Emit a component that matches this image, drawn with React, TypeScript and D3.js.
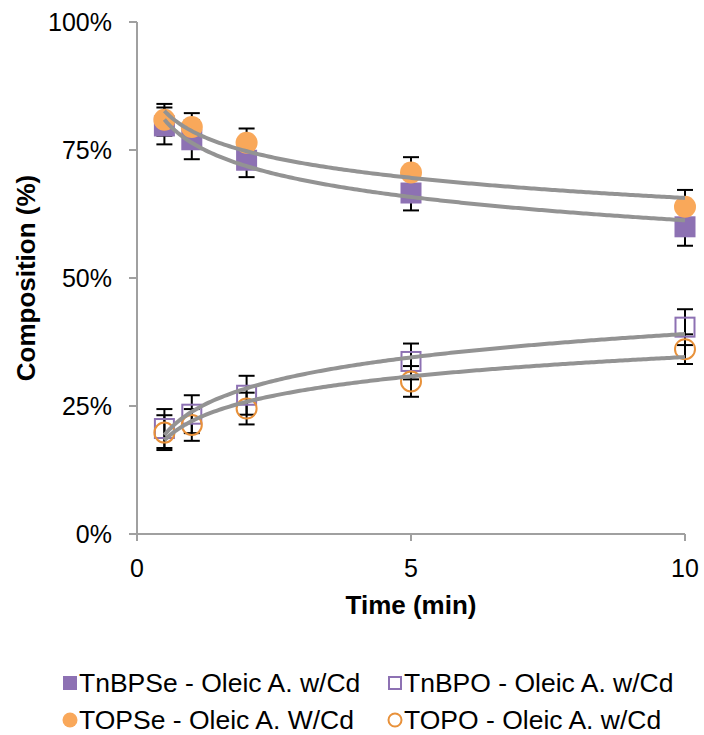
import React from "react";
import * as d3 from "d3";

// Sampling times (min)
const times = [0.5, 1, 2, 5, 10];

// Composition (%) per series
const tnbpseValues = [79.7, 77.0, 73.0, 66.6, 60.0];
const topseValues = [80.9, 79.5, 76.4, 70.6, 63.9];
const tnbpoValues = [20.6, 23.4, 27.1, 33.7, 40.4];
const topoValues = [19.8, 21.3, 24.5, 29.8, 36.1];

// Error (± %) per series
const tnbpseErrors = [3.6, 3.8, 3.3, 3.4, 3.7];
const topseErrors = [3.1, 2.7, 2.8, 3.0, 3.3];
const tnbpoErrors = [3.8, 3.7, 3.8, 3.5, 3.5];
const topoErrors = [3.4, 3.1, 3.1, 3.0, 2.9];

const xTicks = [0, 5, 10];
const yTicks = [0, 25, 50, 75, 100];

const seriesNames = [
  "TnBPSe - Oleic A. w/Cd",
  "TnBPO - Oleic A. w/Cd",
  "TOPSe - Oleic A. W/Cd",
  "TOPO - Oleic A. w/Cd",
];

const W = 704;
const H = 735;
const FONT = "'Liberation Sans', Arial, sans-serif";
const PURPLE = "#8D71B3";
const ORANGE = "#F9A85A";
const ORANGE_LINE = "#E8913A";
const AXIS = "#A0A0A0";
const TREND = "#939393";

type Series = {
  name: string;
  values: number[];
  errors: number[];
  shape: "square" | "circle";
  filled: boolean;
};

const series: Series[] = [
  { name: seriesNames[0], values: tnbpseValues, errors: tnbpseErrors, shape: "square", filled: true },
  { name: seriesNames[2], values: topseValues, errors: topseErrors, shape: "circle", filled: true },
  { name: seriesNames[1], values: tnbpoValues, errors: tnbpoErrors, shape: "square", filled: false },
  { name: seriesNames[3], values: topoValues, errors: topoErrors, shape: "circle", filled: false },
];

// Least-squares logarithmic fit y = a + b ln(x)
function logFit(xs: number[], ys: number[]) {
  const lx = xs.map((v) => Math.log(v));
  const mx = d3.mean(lx)!;
  const my = d3.mean(ys)!;
  let sxy = 0;
  let sxx = 0;
  lx.forEach((v, i) => {
    sxy += (v - mx) * (ys[i] - my);
    sxx += (v - mx) * (v - mx);
  });
  const b = sxy / sxx;
  const a = my - b * mx;
  return (x: number) => a + b * Math.log(x);
}

export default function App() {
  const x = d3.scaleLinear().domain([0, 10]).range([137, 685]);
  const y = d3.scaleLinear().domain([0, 100]).range([534, 22]);

  const samples = d3.range(0, 201).map((i) => 0.5 + (9.5 * i) / 200);
  const line = d3
    .line<[number, number]>()
    .x((d) => x(d[0]))
    .y((d) => y(d[1]));

  const markerSize = 21;
  const circleR = 11;
  const cap = 8;

  const marker = (s: Series, cx: number, cy: number, key: string) => {
    if (s.shape === "square") {
      return s.filled ? (
        <rect key={key} x={cx - markerSize / 2} y={cy - markerSize / 2} width={markerSize} height={markerSize} fill={PURPLE} />
      ) : (
        <rect key={key} x={cx - markerSize / 2 + 1} y={cy - markerSize / 2 + 1} width={markerSize - 2} height={markerSize - 2} fill="none" stroke={PURPLE} strokeWidth={2} />
      );
    }
    return s.filled ? (
      <circle key={key} cx={cx} cy={cy} r={circleR} fill={ORANGE} />
    ) : (
      <circle key={key} cx={cx} cy={cy} r={circleR - 1} fill="none" stroke={ORANGE_LINE} strokeWidth={2} />
    );
  };

  const legendItems = [
    { s: series[0], lx: 63, ly: 683 },
    { s: series[2], lx: 388, ly: 683 },
    { s: series[1], lx: 63, ly: 720 },
    { s: series[3], lx: 388, ly: 720 },
  ];

  return (
    <svg width={W} height={H} style={{ position: "absolute", left: 0, top: 0, background: "#fff" }} fontFamily={FONT}>
      {/* axes */}
      <line x1={x(0)} x2={x(0)} y1={y(100)} y2={y(0)} stroke={AXIS} strokeWidth={2} />
      <line x1={x(0) - 8} x2={x(10)} y1={y(0)} y2={y(0)} stroke={AXIS} strokeWidth={2} />
      {yTicks.map((t) => (
        <g key={"y" + t}>
          <line x1={x(0) - 8} x2={x(0)} y1={y(t)} y2={y(t)} stroke={AXIS} strokeWidth={2} />
          <text x={112} y={y(t)} dy="0.35em" textAnchor="end" fontSize={25} fill="#000">
            {t + "%"}
          </text>
        </g>
      ))}
      {xTicks.map((t) => (
        <g key={"x" + t}>
          <line x1={x(t)} x2={x(t)} y1={y(0)} y2={y(0) + 7} stroke={AXIS} strokeWidth={2} />
          <text x={x(t)} y={577} textAnchor="middle" fontSize={25} fill="#000">
            {t}
          </text>
        </g>
      ))}
      <text x={411} y={614} textAnchor="middle" fontSize={26} fontWeight="bold" fill="#000">
        Time (min)
      </text>
      <text transform={`translate(35,${y(50)}) rotate(-90)`} textAnchor="middle" fontSize={26} fontWeight="bold" fill="#000">
        Composition (%)
      </text>

      {/* error bars */}
      {series.map((s, si) =>
        s.values.map((v, i) => {
          const cx = x(times[i]);
          const top = y(v + s.errors[i]);
          const bot = y(v - s.errors[i]);
          return (
            <g key={`e${si}-${i}`} stroke="#000" strokeWidth={2}>
              <line x1={cx} x2={cx} y1={top} y2={bot} />
              <line x1={cx - cap} x2={cx + cap} y1={top} y2={top} />
              <line x1={cx - cap} x2={cx + cap} y1={bot} y2={bot} />
            </g>
          );
        })
      )}

      {/* markers */}
      {series.map((s, si) => s.values.map((v, i) => marker(s, x(times[i]), y(v), `m${si}-${i}`)))}

      {/* logarithmic trendlines */}
      {series.map((s, si) => {
        const f = logFit(times, s.values);
        return (
          <path key={"t" + si} d={line(samples.map((t) => [t, f(t)] as [number, number])) || ""} fill="none" stroke={TREND} strokeWidth={4} />
        );
      })}

      {/* legend */}
      {legendItems.map(({ s, lx, ly }, i) => {
        const size = 14;
        let sym;
        if (s.shape === "square") {
          sym = s.filled ? (
            <rect x={lx} y={ly - size / 2} width={size} height={size} fill={PURPLE} />
          ) : (
            <rect x={lx + 1} y={ly - size / 2 + 1} width={size - 2} height={size - 2} fill="none" stroke={PURPLE} strokeWidth={2} />
          );
        } else {
          sym = s.filled ? (
            <circle cx={lx + size / 2} cy={ly} r={7.5} fill={ORANGE} />
          ) : (
            <circle cx={lx + size / 2} cy={ly} r={6.5} fill="none" stroke={ORANGE_LINE} strokeWidth={2} />
          );
        }
        return (
          <g key={"l" + i}>
            {sym}
            <text x={lx + 16} y={ly} dy="0.35em" fontSize={26.5} fill="#000">
              {s.name}
            </text>
          </g>
        );
      })}
    </svg>
  );
}
